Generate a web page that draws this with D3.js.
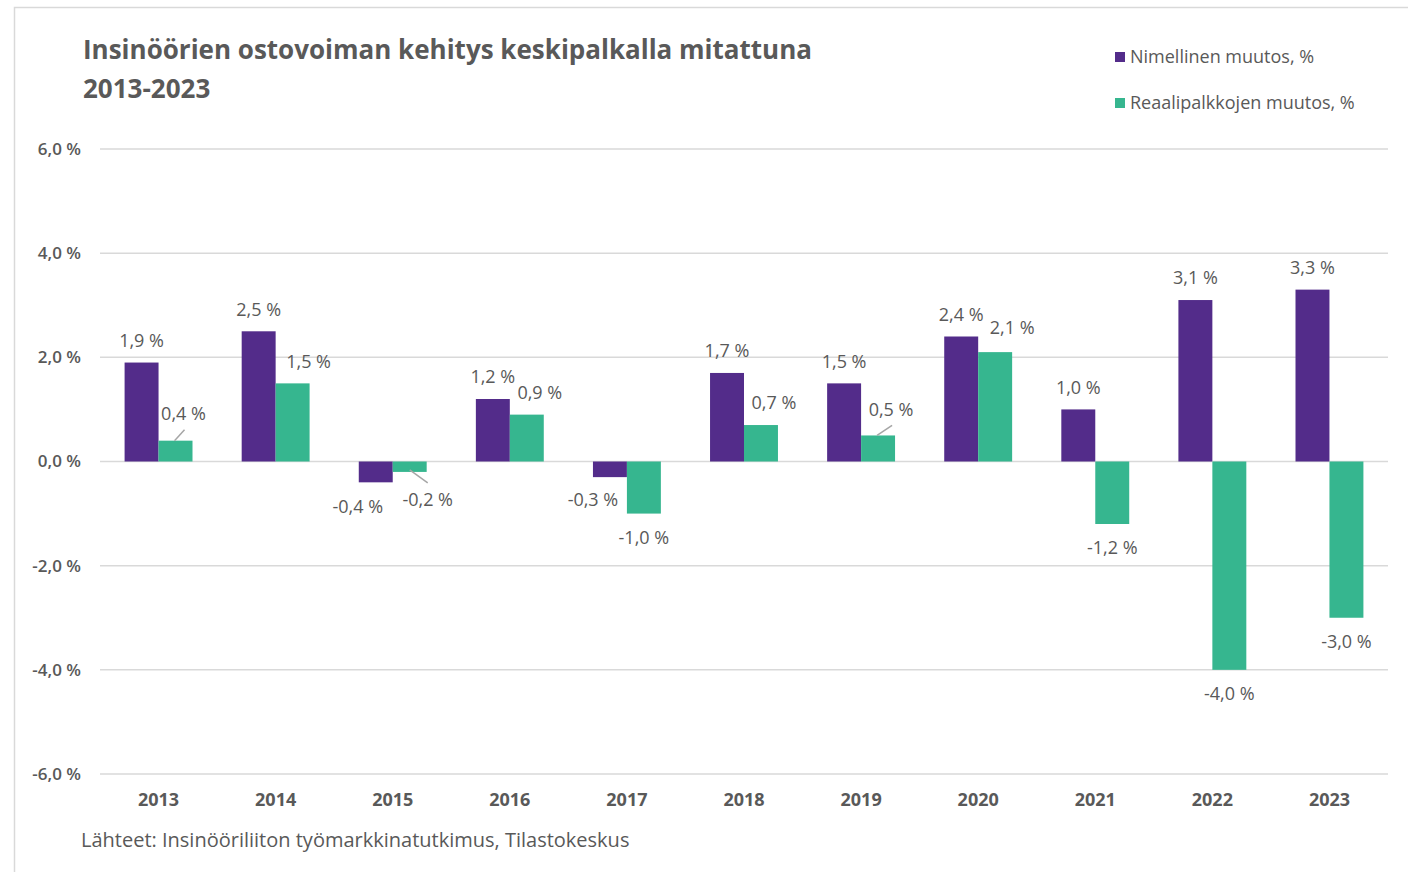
<!DOCTYPE html>
<html><head><meta charset="utf-8">
<script src="https://cdn.jsdelivr.net/npm/d3@7"></script>
<style>body{margin:0;background:#fff}svg{display:block}text{font-family:"Open Sans","Noto Sans",sans-serif}</style>
</head><body><svg id="c" width="1408" height="872"></svg>
<script>
const years = ["2013","2014","2015","2016","2017","2018","2019","2020","2021","2022","2023"];
const nominal = [1.9, 2.5, -0.4, 1.2, -0.3, 1.7, 1.5, 2.4, 1.0, 3.1, 3.3];
const real = [0.4, 1.5, -0.2, 0.9, -1.0, 0.7, 0.5, 2.1, -1.2, -4.0, -3.0];
const yTicks = [-6, -4, -2, 0, 2, 4, 6];
const seriesNames = ["Nimellinen muutos, %", "Reaalipalkkojen muutos, %"];
const titleLines = ["Insinöörien ostovoiman kehitys keskipalkalla mitattuna", "2013-2023"];
const sourceText = "Lähteet: Insinööriliiton työmarkkinatutkimus, Tilastokeskus";

const colors = ["#532C8A", "#36B68F"];
const textCol = "#595959";
const svg = d3.select("#c");

// border
svg.append("rect").attr("x",14.5).attr("y",7.5).attr("width",1420).attr("height",900)
  .attr("fill","none").attr("stroke","#d9d9d9").attr("stroke-width",1.5);

const x = d3.scaleBand().domain(years).range([100, 1388]).paddingInner(0.42).paddingOuter(0.21);
const xs = d3.scaleBand().domain([0,1]).range([0, x.bandwidth()]);
const y = d3.scaleLinear().domain([-6, 6]).range([774, 149]);

// gridlines
svg.append("g").selectAll("line").data(yTicks).join("line")
  .attr("x1",100).attr("x2",1388).attr("y1",d=>y(d)).attr("y2",d=>y(d))
  .attr("stroke","#d9d9d9").attr("stroke-width",1.5);

const fmt = v => v.toFixed(1).replace(".", ",") + " %";

// y axis labels
const yAxis = d3.axisLeft(y).tickValues(yTicks).tickSize(0).tickPadding(0).tickFormat(d => d.toFixed(1).replace(".", ",") + " %");
const ga = svg.append("g").attr("transform","translate(81,0)").call(yAxis);
ga.select(".domain").remove();
ga.selectAll("text").attr("fill",textCol).attr("font-size",17).attr("font-weight",600)
  .style("font-family",'"Open Sans",sans-serif');

// x axis labels
const xAxis = d3.axisBottom(x).tickSize(0).tickPadding(0);
const gx = svg.append("g").attr("transform","translate(0,800)").call(xAxis);
gx.select(".domain").remove();
gx.selectAll("text").attr("fill",textCol).attr("font-size",18).attr("font-weight",700).attr("dy","0.35em");

const series = [nominal, real];
series.forEach((vals, si) => {
  svg.append("g").selectAll("rect").data(vals).join("rect")
    .attr("x",(d,i)=>x(years[i]) + xs(si))
    .attr("width", xs.bandwidth())
    .attr("y", d => y(Math.max(0,d)))
    .attr("height", d => Math.abs(y(d)-y(0)))
    .attr("fill", colors[si]);
});

// label nudges (layout config)
const nudge = {
  "0-2": [-18, 0], "0-4": [-17, -1],
  "1-0": [8, -5], "1-1": [16, 0], "1-2": [18, 4], "1-3": [13, 0], "1-5": [13, 0],
  "1-6": [13, -4], "1-7": [17, -2]
};
const leaders = { "1-0": true, "1-2": true, "1-6": true };

const lg = svg.append("g");
series.forEach((vals, si) => {
  vals.forEach((v, i) => {
    const cx = x(years[i]) + xs(si) + xs.bandwidth()/2;
    const end = y(v);
    let ty = v >= 0 ? end - 22 : end + 24;
    let tx = cx;
    const n = nudge[si+"-"+i];
    if (n) { tx += n[0]; ty += n[1]; }
    if (leaders[si+"-"+i]) {
      if (v >= 0) {
        lg.append("line").attr("x1", tx+1).attr("y1", ty+16).attr("x2", cx-1).attr("y2", end)
          .attr("stroke","#a6a6a6").attr("stroke-width",1.5);
      } else {
        lg.append("line").attr("x1", cx).attr("y1", end-2).attr("x2", tx).attr("y2", ty-17)
          .attr("stroke","#a6a6a6").attr("stroke-width",1.5);
      }
    }
    lg.append("text").attr("x", tx).attr("y", ty).attr("dy","0.35em")
      .attr("text-anchor","middle").attr("fill",textCol).attr("font-size",18)
      .text(fmt(v));
  });
});

// title
svg.append("g").selectAll("text").data(titleLines).join("text")
  .attr("x",83).attr("y",(d,i)=>50 + i*39).attr("dy","0.35em")
  .attr("fill",textCol).attr("font-size",26).attr("font-weight",700)
  .text(d=>d);

// legend
const leg = svg.append("g").selectAll("g").data(seriesNames).join("g")
  .attr("transform",(d,i)=>`translate(1115,${57 + i*46})`);
leg.append("rect").attr("x",0).attr("y",-5).attr("width",10).attr("height",10).attr("fill",(d,i)=>colors[i]);
leg.append("text").attr("x",15).attr("y",0).attr("dy","0.35em").attr("fill",textCol).attr("font-size",18).text(d=>d);

// source
svg.append("text").attr("x",81).attr("y",840).attr("dy","0.35em").attr("fill",textCol)
  .attr("font-size",20).text(sourceText);
</script></body></html>
